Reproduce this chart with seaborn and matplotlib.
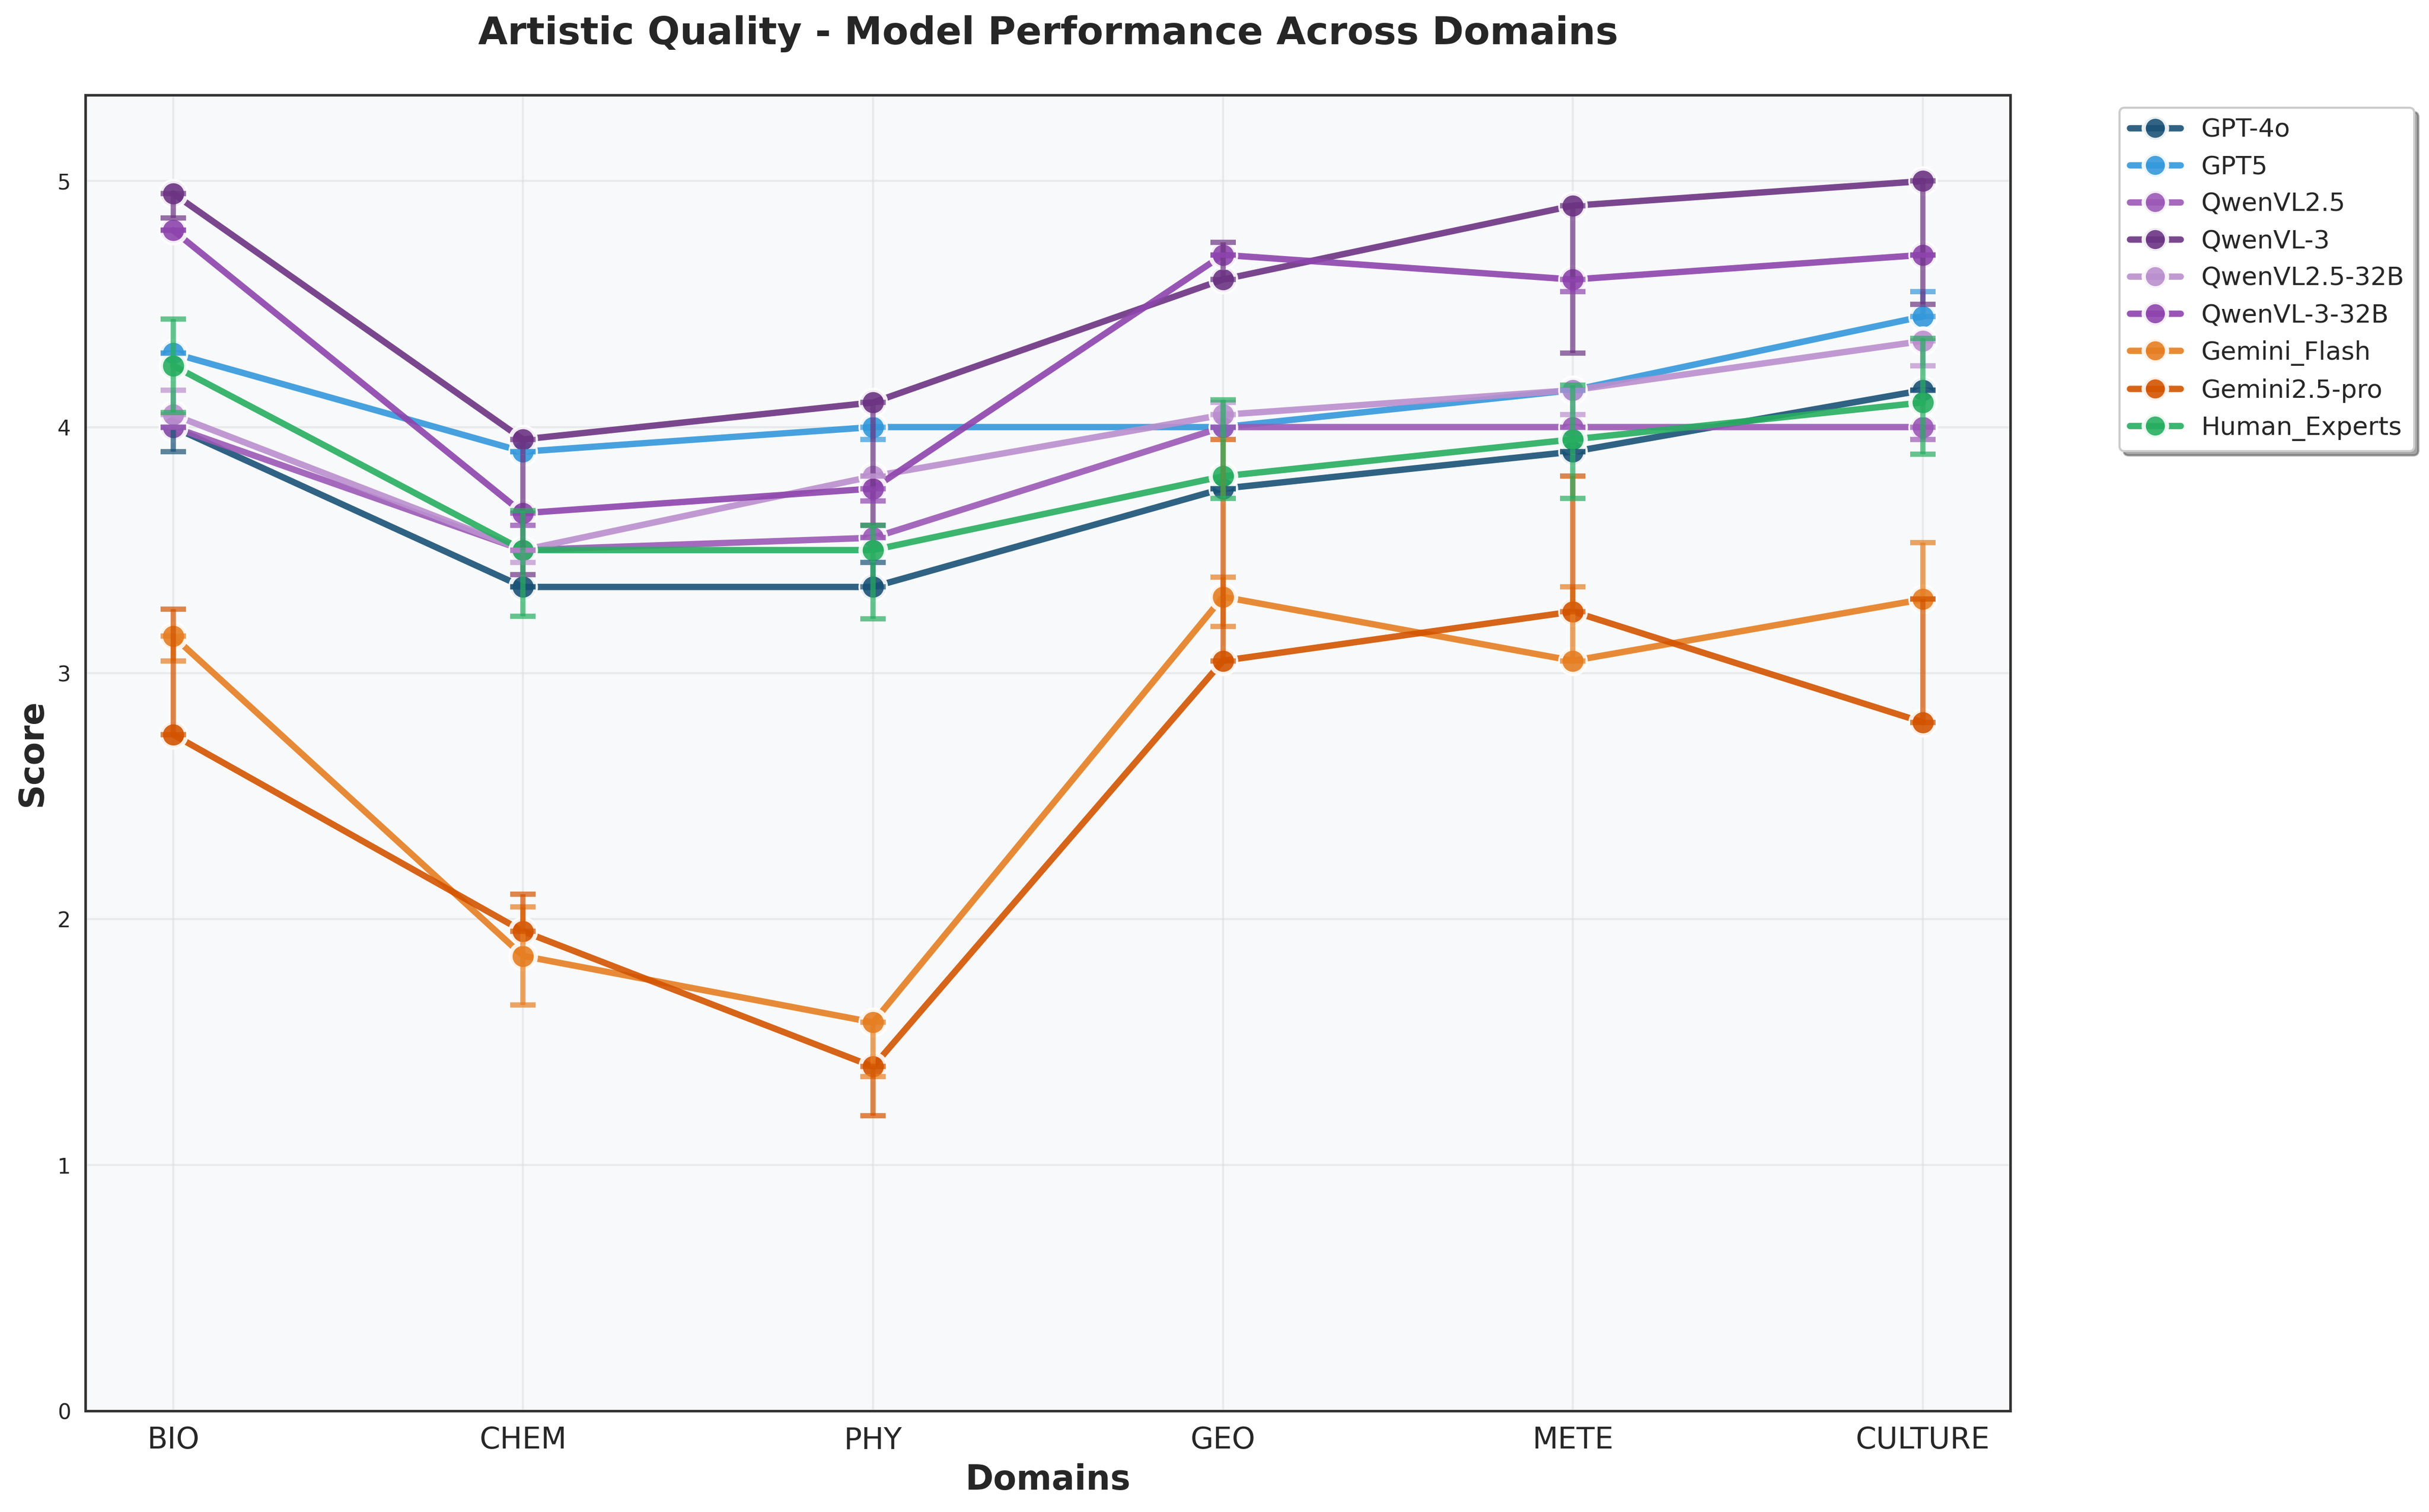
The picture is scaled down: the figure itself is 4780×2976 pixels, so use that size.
import numpy as np
import pandas as pd
import matplotlib.pyplot as plt
from matplotlib.lines import Line2D
import seaborn as sns

domains = ["BIO", "CHEM", "PHY", "GEO", "METE", "CULTURE"]
models = ["GPT-4o", "GPT5", "QwenVL2.5", "QwenVL-3", "QwenVL2.5-32B",
          "QwenVL-3-32B", "Gemini_Flash", "Gemini2.5-pro", "Human_Experts"]
colors = ["#1a5276", "#3498db", "#9b59b6", "#6c3483", "#bb8fce",
          "#8e44ad", "#e67e22", "#d35400", "#27ae60"]

# mean scores per domain
gpt4o = [4.00, 3.35, 3.35, 3.75, 3.90, 4.15]
gpt5 = [4.30, 3.90, 4.00, 4.00, 4.15, 4.45]
qwen25 = [4.00, 3.50, 3.55, 4.00, 4.00, 4.00]
qwen3 = [4.95, 3.95, 4.10, 4.60, 4.90, 5.00]
qwen25_32b = [4.05, 3.50, 3.80, 4.05, 4.15, 4.35]
qwen3_32b = [4.80, 3.65, 3.75, 4.70, 4.60, 4.70]
gemini_flash = [3.15, 1.85, 1.58, 3.31, 3.05, 3.30]
gemini_pro = [2.75, 1.95, 1.40, 3.05, 3.25, 2.80]
human = [4.25, 3.50, 3.50, 3.80, 3.95, 4.10]

# error bars (below / above the mean)
gpt4o_lo = [0.10, 0, 0, 0, 0, 0]
gpt4o_hi = [0, 0, 0.10, 0, 0, 0]
gpt5_lo = [0, 0, 0.05, 0, 0, 0]
gpt5_hi = [0, 0, 0, 0, 0, 0.10]
qwen25_lo = [0, 0, 0, 0, 0, 0.05]
qwen25_hi = [0, 0, 0, 0, 0, 0]
qwen3_lo = [0.10, 0.55, 0.50, 0, 0.60, 0.50]
qwen3_hi = [0, 0, 0, 0.15, 0, 0]
qwen25_32b_lo = [0, 0.05, 0, 0, 0.10, 0.10]
qwen25_32b_hi = [0.10, 0, 0, 0.05, 0, 0]
qwen3_32b_lo = [0, 0.05, 0.05, 0, 0.05, 0]
qwen3_32b_hi = [0, 0, 0, 0, 0, 0]
gemini_flash_lo = [0.10, 0.20, 0.22, 0.12, 0, 0]
gemini_flash_hi = [0, 0.20, 0, 0.08, 0.30, 0.23]
gemini_pro_lo = [0, 0, 0.20, 0, 0, 0]
gemini_pro_hi = [0.51, 0.15, 0, 0.90, 0.55, 0.50]
human_lo = [0.19, 0.27, 0.28, 0.09, 0.24, 0.21]
human_hi = [0.19, 0.16, 0.10, 0.31, 0.22, 0.26]

scores = [gpt4o, gpt5, qwen25, qwen3, qwen25_32b, qwen3_32b,
          gemini_flash, gemini_pro, human]
lower = [gpt4o_lo, gpt5_lo, qwen25_lo, qwen3_lo, qwen25_32b_lo, qwen3_32b_lo,
         gemini_flash_lo, gemini_pro_lo, human_lo]
upper = [gpt4o_hi, gpt5_hi, qwen25_hi, qwen3_hi, qwen25_32b_hi, qwen3_32b_hi,
         gemini_flash_hi, gemini_pro_hi, human_hi]

sns.set_style("whitegrid")
plt.rcParams['font.family'] = ['DejaVu Sans']

rows = []
for m, s in zip(models, scores):
    for d, v in zip(domains, s):
        rows.append({"Domain": d, "Model": m, "Score": v})
df = pd.DataFrame(rows)

fig, ax = plt.subplots(figsize=(16, 10))
ax.set_facecolor("#f8f9fa")

sns.lineplot(
    data=df, x="Domain", y="Score", hue="Model", hue_order=models,
    palette=dict(zip(models, colors)), marker="o", markersize=12,
    markeredgecolor="white", markeredgewidth=2, linewidth=3,
    alpha=0.9, sort=False, errorbar=None, legend=False, ax=ax, zorder=2
)

for c, s, lo, hi in zip(colors, scores, lower, upper):
    ax.errorbar(domains, s, yerr=[lo, hi], fmt="none", ecolor=c,
                elinewidth=2.5, capsize=6, capthick=2.5, alpha=0.7, zorder=3)

ax.set_ylim(0, 5.35)
ax.set_yticks([0, 1, 2, 3, 4, 5])
ax.tick_params(axis="x", labelsize=14)
ax.tick_params(axis="y", labelsize=10)
ax.grid(True, color="#dcdde0", alpha=0.5, linewidth=1)

for sp in ax.spines.values():
    sp.set_color("#333333")
    sp.set_linewidth(1.2)

ax.set_title("Artistic Quality - Model Performance Across Domains",
             fontsize=18, fontweight="bold", pad=24)
ax.set_xlabel("Domains", fontsize=16, fontweight="bold")
ax.set_ylabel("Score", fontsize=16, fontweight="bold")

handles = [Line2D([0], [0], color=c, marker="o", markersize=11,
                  markeredgecolor="white", markeredgewidth=2,
                  linewidth=3, alpha=0.9) for c in colors]
ax.legend(handles, models, bbox_to_anchor=(1.05, 1), loc="upper left",
          fontsize=12, frameon=True, fancybox=True, shadow=True,
          facecolor="white")

plt.tight_layout()
plt.savefig("out.png", dpi=300, bbox_inches="tight", facecolor="white")
